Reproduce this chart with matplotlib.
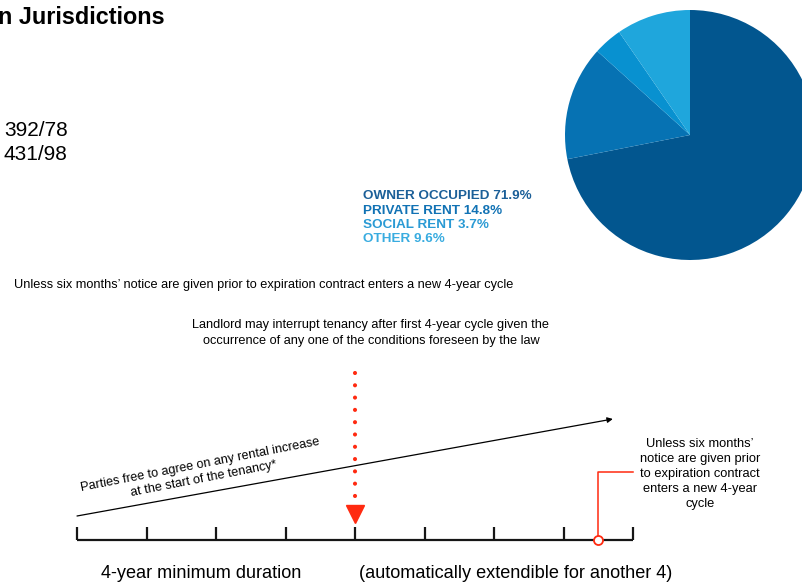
import matplotlib
matplotlib.use("Agg")
import matplotlib.pyplot as plt

plt.rcParams["font.family"] = ["Liberation Sans", "DejaVu Sans"]

W, H = 803, 586

# Housing tenure shares (%)
tenure_labels = ["OWNER OCCUPIED", "PRIVATE RENT", "SOCIAL RENT", "OTHER"]
tenure_shares = [71.9, 14.8, 3.7, 9.6]
tenure_colors = ["#02568f", "#0672b3", "#0891d0", "#1fa6dc"]
label_colors = ["#1b5f98", "#1172b4", "#2a9ad4", "#39ace0"]

# Tenancy timeline, in years
timeline_years = list(range(0, 9))
break_year = 4          # landlord may interrupt after the first cycle
notice_year = 7.5       # six months before the end of the second cycle
rent_arrow_end_year = 7.71

law_refs = ["392/78", "431/98"]

fig = plt.figure(figsize=(W / 100, H / 100), dpi=100)
fig.patch.set_facecolor("white")

# Overlay axes in pixel units for free text
ax = fig.add_axes([0, 0, 1, 1])
ax.set_xlim(0, W)
ax.set_ylim(H, 0)
ax.axis("off")

# Title (continues off the left edge)
ax.text(-2, 17, "n Jurisdictions", fontsize=16.8, fontweight="bold",
        ha="left", va="center", color="black")

for i, ref in enumerate(law_refs):
    ax.text(4, 130 + i * 24, ref, fontsize=15, ha="left", va="center", color="black")

# Pie of housing tenure
ax_p = fig.add_axes([(690 - 125) / W, (H - 135 - 125) / H, 250 / W, 250 / H])
ax_p.pie(tenure_shares, colors=tenure_colors, startangle=90, counterclock=False,
         radius=1, wedgeprops=dict(linewidth=0))
ax_p.set_xlim(-1, 1)
ax_p.set_ylim(-1, 1)
ax_p.set_aspect("equal")
ax_p.axis("off")

for i, (lab, val, col) in enumerate(zip(tenure_labels, tenure_shares, label_colors)):
    ax.text(363, 196 + i * 14.5, f"{lab} {val}%", fontsize=9.7, fontweight="bold",
            color=col, ha="left", va="center")

ax.text(14, 285, "Unless six months\u2019 notice are given prior to expiration contract enters a new 4-year cycle",
        fontsize=9.2, ha="left", va="center", color="black")

ax.text(371, 333, "Landlord may interrupt tenancy after first 4-year cycle given the\n"
        "occurrence of any one of the conditions foreseen by the law",
        fontsize=9.2, ha="center", va="center", multialignment="center",
        linespacing=1.48, color="black")

ax.text(202, 472, "Parties free to agree on any rental increase\nat the start of the tenancy*",
        fontsize=9.1, ha="center", va="center", multialignment="center",
        rotation=11, rotation_mode="anchor", linespacing=1.25, color="black")

ax.text(700, 474, "Unless six months\u2019\nnotice are given prior\nto expiration contract\n"
        "enters a new 4-year\ncycle",
        fontsize=9.3, ha="center", va="center", multialignment="center",
        linespacing=1.34, color="black")

ax.text(201, 574, "4-year minimum duration", fontsize=13.1, ha="center", va="center",
        color="black")
ax.text(516, 574, "(automatically extendible for another 4)", fontsize=13.1,
        ha="center", va="center", color="black")

# Timeline axes: x in years, y in pixel rows
ax_t = fig.add_axes([77 / W, 0, (633 - 77) / W, 1])
ax_t.set_xlim(timeline_years[0], timeline_years[-1])
ax_t.set_ylim(H, 0)
ax_t.axis("off")

base_y, tick_top = 540, 527
line_col = "#161616"
ax_t.plot([timeline_years[0], timeline_years[-1]], [base_y, base_y], color=line_col,
          lw=1.6, solid_capstyle="butt", clip_on=False)
ax_t.vlines(timeline_years, tick_top, base_y, color=line_col, lw=1.6, clip_on=False)

# Rising rent arrow
ax_t.annotate("", xy=(rent_arrow_end_year, 419), xytext=(timeline_years[0], 516),
              arrowprops=dict(arrowstyle="-|>", color="black", lw=0.9,
                              mutation_scale=8, shrinkA=0, shrinkB=0),
              annotation_clip=False)

red = "#ff2a10"
# Dotted marker of the landlord's break option
ax_t.plot([break_year, break_year], [373, 496], color=red, lw=3.0,
          linestyle=(0, (0.001, 2.95)), dash_capstyle="round", clip_on=False)
ax_t.plot([break_year], [513.5], marker="v", ms=12.5, color=red, mec=red,
          clip_on=False)

# Notice deadline bracket
ax_t.plot([notice_year, notice_year, timeline_years[-1]], [base_y, 472, 472],
          color=red, lw=1.1, clip_on=False)
ax_t.plot([notice_year], [base_y], marker="o", ms=6.5, mfc="white", mec=red,
          mew=1.3, clip_on=False)

fig.savefig("out.png", dpi=100, facecolor="white")
